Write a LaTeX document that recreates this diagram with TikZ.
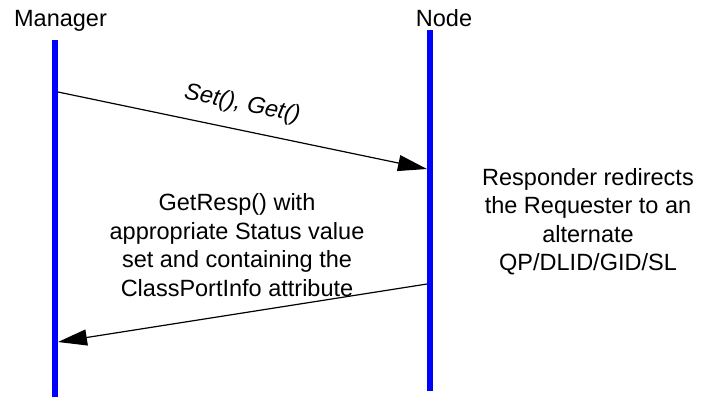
\documentclass[tikz,border=0pt]{standalone}
\usepackage{fontspec}
\setmainfont{Liberation Sans}
\usetikzlibrary{arrows.meta,positioning}

\begin{document}
\begin{tikzpicture}[
    x=1bp,y=-1bp,
    lifeline/.style={draw=blue,line width=5.5bp},
    msg/.style={-{Triangle[length=29bp,width=16bp]},line width=1.2bp},
    note/.style={align=center,inner sep=0pt},
    font=\fontsize{23.5bp}{28.5bp}\selectfont
  ]
  \useasboundingbox (0,0) rectangle (706,397);

  %% Lifelines
  \coordinate (mgrtop) at (55,40);
  \coordinate (mgrbot) at (55,397);
  \coordinate (nodetop) at (430,30);
  \coordinate (nodebot) at (430,391);
  \draw[lifeline] (mgrtop) -- (mgrbot);
  \draw[lifeline] (nodetop) -- (nodebot);

  %% Lifeline labels
  \node[anchor=base,inner sep=0pt] (mgr) at (60.5,26) {Manager};
  \node[anchor=base,inner sep=0pt] (nd) at (444,26) {Node};

  %% Message end points
  \coordinate (req0) at (58,92);
  \coordinate (req1) at (427,169);
  \coordinate (resp0) at (427,284);
  \coordinate (resp1) at (58,342);

  %% Set/Get request
  \draw[msg] (req0) -- node[pos=0.485,sloped,above,inner sep=14bp]{\itshape Set(), Get()} (req1);

  %% Redirect response
  \draw[msg] (resp0) -- (resp1);

  %% Notes
  \node[note] (respnote) at (237,245) {GetResp() with\\appropriate Status value\\set and containing the\\ClassPortInfo attribute};
  \node[note] (redirnote) at (588,221.5) {Responder redirects\\the Requester to an\\alternate\\QP/DLID/GID/SL};
\end{tikzpicture}
\end{document}
